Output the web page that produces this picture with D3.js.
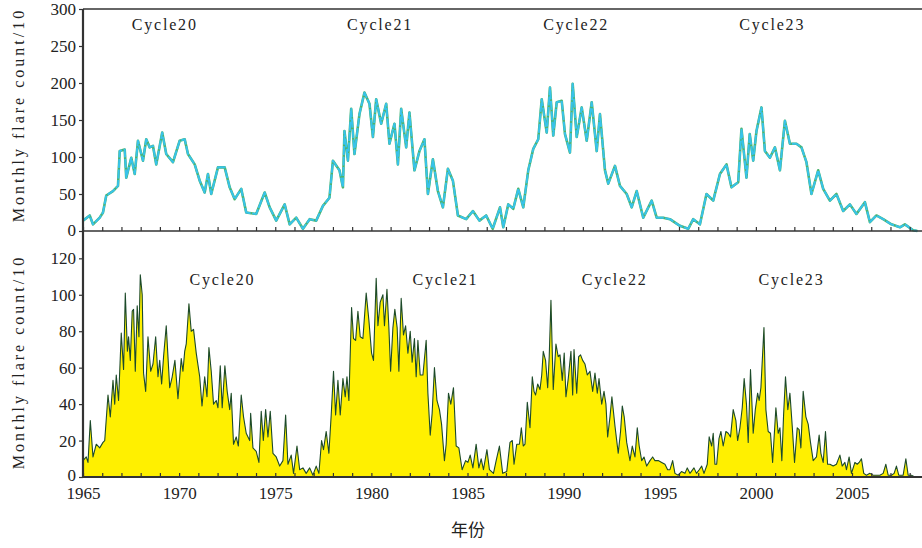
<!DOCTYPE html>
<html>
<head>
<meta charset="utf-8">
<script src="https://cdn.jsdelivr.net/npm/d3@7"></script>
<style>
  html, body { margin: 0; padding: 0; background: #fff; }
  svg { display: block; }
  .num { font-family: "Liberation Serif", "DejaVu Serif", serif; font-size: 17px; fill: #222; }
  .lbl { font-family: "Liberation Serif", "DejaVu Serif", serif; font-size: 16px; fill: #222; }
</style>
</head>
<body>
<div id="chart"></div>
<script>
// top panel: monthly flare count / 10 (smoothed), [year, value]
var topSeries = [[1965.00,14],[1965.35,21],[1965.52,9],[1965.87,18],[1966.04,25],[1966.21,48],[1966.56,54],[1966.82,61],[1966.91,108],[1967.17,110],[1967.25,72],[1967.51,99],[1967.69,77],[1967.86,122],[1968.12,95],[1968.29,124],[1968.47,113],[1968.64,115],[1968.81,90],[1969.12,133],[1969.33,104],[1969.68,93],[1970.03,122],[1970.29,124],[1970.46,104],[1970.81,90],[1971.07,68],[1971.33,52],[1971.50,77],[1971.67,50],[1972.02,86],[1972.37,86],[1972.63,59],[1972.89,43],[1973.23,57],[1973.49,25],[1974.01,23],[1974.45,52],[1974.71,32],[1975.05,14],[1975.49,36],[1975.75,9],[1976.09,18],[1976.44,3],[1976.79,16],[1977.13,14],[1977.48,34],[1977.82,45],[1978.00,95],[1978.34,82],[1978.52,59],[1978.60,135],[1978.78,95],[1978.95,165],[1979.12,104],[1979.38,158],[1979.64,187],[1979.90,172],[1980.08,127],[1980.25,178],[1980.51,145],[1980.77,172],[1980.94,118],[1981.20,145],[1981.38,90],[1981.55,165],[1981.81,113],[1981.98,160],[1982.24,82],[1982.50,108],[1982.76,124],[1982.94,50],[1983.20,97],[1983.46,54],[1983.72,32],[1983.98,84],[1984.24,68],[1984.50,21],[1984.93,16],[1985.28,27],[1985.62,14],[1985.97,21],[1986.31,3],[1986.69,32],[1986.86,5],[1987.12,36],[1987.38,30],[1987.64,57],[1987.90,32],[1988.16,82],[1988.42,111],[1988.68,124],[1988.86,178],[1989.12,133],[1989.29,194],[1989.46,129],[1989.64,174],[1989.90,176],[1990.07,131],[1990.33,106],[1990.47,199],[1990.68,127],[1990.94,167],[1991.20,122],[1991.46,174],[1991.72,108],[1991.89,158],[1992.15,82],[1992.32,64],[1992.67,88],[1992.93,61],[1993.28,50],[1993.54,32],[1993.80,54],[1994.14,18],[1994.58,41],[1994.84,18],[1995.18,18],[1995.53,16],[1996.05,7],[1996.48,3],[1996.74,16],[1997.09,9],[1997.43,50],[1997.78,41],[1998.13,77],[1998.47,90],[1998.73,59],[1999.08,66],[1999.25,138],[1999.51,72],[1999.68,131],[1999.86,95],[2000.03,135],[2000.29,167],[2000.47,108],[2000.73,99],[2000.99,113],[2001.25,82],[2001.51,149],[2001.77,118],[2002.11,118],[2002.37,113],[2002.63,93],[2002.89,50],[2003.24,82],[2003.50,57],[2003.85,41],[2004.19,50],[2004.54,27],[2004.89,36],[2005.23,23],[2005.67,39],[2005.93,12],[2006.27,21],[2006.62,16],[2007.05,9],[2007.49,5],[2007.75,9],[2008.18,1],[2008.40,0]];

// bottom panel: monthly flare count / 10, [year, value]
var bottomSeries = [[1965.00,9],[1965.17,11],[1965.26,8],[1965.38,31],[1965.52,11],[1965.69,18],[1965.87,16],[1966.04,19],[1966.13,20],[1966.30,45],[1966.42,33],[1966.56,53],[1966.65,40],[1966.73,56],[1966.85,42],[1966.99,79],[1967.11,59],[1967.20,101],[1967.31,69],[1967.37,77],[1967.46,64],[1967.56,91],[1967.63,92],[1967.72,58],[1967.82,94],[1967.91,77],[1967.98,111],[1968.08,100],[1968.15,57],[1968.26,47],[1968.38,77],[1968.52,58],[1968.64,62],[1968.78,77],[1968.90,55],[1968.99,64],[1969.09,51],[1969.19,66],[1969.33,83],[1969.51,49],[1969.64,55],[1969.78,64],[1969.94,43],[1970.11,65],[1970.20,58],[1970.29,69],[1970.37,73],[1970.51,95],[1970.63,80],[1970.75,81],[1970.89,68],[1971.07,55],[1971.19,39],[1971.33,55],[1971.45,44],[1971.55,71],[1971.67,58],[1971.79,40],[1971.93,42],[1972.02,38],[1972.14,61],[1972.24,38],[1972.38,61],[1972.50,47],[1972.63,37],[1972.71,46],[1972.83,18],[1972.97,22],[1973.08,17],[1973.23,45],[1973.35,33],[1973.49,24],[1973.67,20],[1973.72,35],[1973.84,16],[1974.01,14],[1974.15,8],[1974.27,36],[1974.38,20],[1974.50,37],[1974.62,22],[1974.74,36],[1974.88,13],[1975.05,11],[1975.23,6],[1975.40,9],[1975.54,34],[1975.66,7],[1975.83,12],[1975.95,2],[1976.13,17],[1976.27,4],[1976.44,5],[1976.61,2],[1976.79,5],[1976.96,1],[1977.13,6],[1977.27,2],[1977.41,20],[1977.51,15],[1977.65,25],[1977.79,13],[1977.91,34],[1978.03,58],[1978.14,34],[1978.26,53],[1978.38,34],[1978.52,54],[1978.64,44],[1978.73,55],[1978.83,42],[1978.97,93],[1979.07,76],[1979.18,75],[1979.30,91],[1979.42,77],[1979.56,76],[1979.73,101],[1979.87,86],[1980.01,68],[1980.11,64],[1980.25,109],[1980.34,83],[1980.46,96],[1980.60,100],[1980.68,83],[1980.81,103],[1980.91,82],[1981.00,58],[1981.12,82],[1981.22,92],[1981.34,82],[1981.43,58],[1981.55,98],[1981.67,78],[1981.78,83],[1981.90,68],[1982.02,80],[1982.12,63],[1982.24,76],[1982.33,55],[1982.42,75],[1982.54,56],[1982.68,56],[1982.85,75],[1982.94,46],[1983.06,23],[1983.16,35],[1983.28,60],[1983.41,42],[1983.54,37],[1983.65,29],[1983.80,9],[1983.89,18],[1984.01,46],[1984.13,40],[1984.27,49],[1984.41,17],[1984.55,16],[1984.72,4],[1984.90,9],[1985.02,8],[1985.14,12],[1985.28,5],[1985.45,18],[1985.59,5],[1985.71,10],[1985.83,4],[1986.01,15],[1986.14,4],[1986.35,2],[1986.49,9],[1986.66,17],[1986.83,2],[1987.04,3],[1987.21,19],[1987.33,20],[1987.42,7],[1987.56,18],[1987.70,18],[1987.80,27],[1987.90,17],[1987.99,18],[1988.11,41],[1988.25,27],[1988.37,55],[1988.46,47],[1988.54,45],[1988.65,51],[1988.77,48],[1988.86,56],[1988.94,69],[1989.06,64],[1989.17,49],[1989.25,66],[1989.34,97],[1989.46,48],[1989.60,73],[1989.72,66],[1989.81,67],[1989.93,53],[1990.03,68],[1990.12,44],[1990.24,54],[1990.38,69],[1990.47,45],[1990.54,70],[1990.68,46],[1990.78,66],[1990.88,67],[1990.99,64],[1991.11,62],[1991.23,56],[1991.37,58],[1991.51,47],[1991.63,57],[1991.75,46],[1991.84,54],[1991.98,40],[1992.10,47],[1992.20,40],[1992.29,22],[1992.41,33],[1992.51,44],[1992.67,28],[1992.84,13],[1992.96,25],[1993.05,39],[1993.15,33],[1993.28,19],[1993.45,9],[1993.57,17],[1993.71,11],[1993.83,27],[1993.93,17],[1994.06,9],[1994.18,11],[1994.32,6],[1994.49,9],[1994.63,11],[1994.75,9],[1994.92,9],[1995.10,8],[1995.27,7],[1995.41,4],[1995.53,4],[1995.67,9],[1995.79,2],[1995.96,1],[1996.13,3],[1996.31,2],[1996.43,5],[1996.57,2],[1996.78,5],[1996.91,2],[1997.05,4],[1997.18,6],[1997.30,2],[1997.47,7],[1997.57,22],[1997.70,17],[1997.78,24],[1997.87,7],[1997.96,7],[1998.08,21],[1998.18,25],[1998.30,17],[1998.44,25],[1998.56,24],[1998.68,22],[1998.82,37],[1998.96,31],[1999.05,20],[1999.17,27],[1999.29,38],[1999.39,54],[1999.51,40],[1999.60,19],[1999.72,59],[1999.86,24],[1999.97,37],[2000.09,46],[2000.17,42],[2000.26,49],[2000.42,82],[2000.52,37],[2000.64,25],[2000.76,24],[2000.87,8],[2001.04,38],[2001.16,24],[2001.25,27],[2001.35,9],[2001.44,34],[2001.54,55],[2001.66,37],[2001.77,46],[2001.89,28],[2002.01,8],[2002.15,27],[2002.25,26],[2002.34,16],[2002.46,47],[2002.60,33],[2002.72,29],[2002.84,19],[2002.98,9],[2003.15,11],[2003.29,23],[2003.38,13],[2003.50,8],[2003.62,25],[2003.73,7],[2003.85,7],[2004.02,6],[2004.19,7],[2004.37,12],[2004.49,6],[2004.63,8],[2004.71,4],[2004.85,11],[2004.97,2],[2005.15,8],[2005.27,7],[2005.37,8],[2005.49,10],[2005.61,2],[2005.75,1],[2005.93,2],[2006.10,1],[2006.27,1],[2006.45,1],[2006.62,2],[2006.76,7],[2006.88,1],[2007.05,1],[2007.19,2],[2007.31,6],[2007.43,1],[2007.66,1],[2007.80,10],[2007.92,1],[2008.09,1],[2008.27,0]];

var xTicks = [1965, 1970, 1975, 1980, 1985, 1990, 1995, 2000, 2005];
var topYTicks = [0, 50, 100, 150, 200, 250, 300];
var bottomYTicks = [0, 20, 40, 60, 80, 100, 120];
var cycleNames = ["Cycle20", "Cycle21", "Cycle22", "Cycle23"];
var topCycleYears = [1969.2, 1980.4, 1990.6, 2000.8];
var bottomCycleYears = [1972.2, 1983.8, 1992.6, 2001.8];

var W = 922, H = 548;
var left = 83, right = 922;
var topY0 = 9, topY1 = 231, botY1 = 477;

var svg = d3.select("#chart").append("svg").attr("width", W).attr("height", H);

var x = d3.scaleLinear().domain([1965, 2008.64]).range([left, right]);
var yTop = d3.scaleLinear().domain([0, 300]).range([topY1, topY0]);
var yBot = d3.scaleLinear().domain([0, 135]).range([botY1, topY1]);

var yearTicks = d3.range(1965, 2009);

// top curve: green under a broken cyan stroke
var topLine = d3.line().x(function (d) { return x(d[0]); }).y(function (d) { return yTop(d[1]); });
svg.append("path").datum(topSeries).attr("d", topLine)
  .attr("fill", "none").attr("stroke", "#4cb46e").attr("stroke-width", 2.6).attr("stroke-linejoin", "round");
svg.append("path").datum(topSeries).attr("d", topLine)
  .attr("fill", "none").attr("stroke", "#38c3ea").attr("stroke-width", 2)
  .attr("stroke-dasharray", "9,1.5").attr("stroke-linejoin", "round");

// bottom curve: yellow area
var botArea = d3.area().x(function (d) { return x(d[0]); }).y0(yBot(0)).y1(function (d) { return yBot(d[1]); });
var botLine = d3.line().x(function (d) { return x(d[0]); }).y(function (d) { return yBot(d[1]); });
svg.append("path").datum(bottomSeries).attr("d", botArea).attr("fill", "#fff000");
svg.append("path").datum(bottomSeries).attr("d", botLine)
  .attr("fill", "none").attr("stroke", "#1c4a2a").attr("stroke-width", 1.1).attr("stroke-linejoin", "round");

// axes
function yAxis(scale, ticks) {
  return d3.axisLeft(scale).tickValues(ticks).tickSize(4).tickPadding(3);
}
var gTopY = svg.append("g").attr("transform", "translate(" + left + ",0)").call(yAxis(yTop, topYTicks));
var gBotY = svg.append("g").attr("transform", "translate(" + left + ",0)").call(yAxis(yBot, bottomYTicks));
[gTopY, gBotY].forEach(function (g) {
  g.select(".domain").remove();
  g.selectAll(".tick line").attr("stroke", "#333").attr("stroke-width", 1.2);
  g.selectAll(".tick text").attr("class", "num").attr("font-family", null).attr("font-size", null);
});
gBotY.selectAll(".tick").filter(function (d) { return d === 0; }).select("text").attr("dy", "0.2em");
gTopY.selectAll(".tick").filter(function (d) { return d === 0; }).select("text").attr("dy", "0.25em");

// year ticks pointing inward
function yearAxis(yPos) {
  var g = svg.append("g").attr("transform", "translate(0," + yPos + ")")
    .call(d3.axisTop(x).tickValues(yearTicks).tickSize(4).tickFormat(""));
  g.select(".domain").remove();
  g.selectAll(".tick line").attr("stroke", "#333").attr("stroke-width", 1.2);
  return g;
}
yearAxis(topY1);
yearAxis(botY1);

var gX = svg.append("g").attr("transform", "translate(0," + botY1 + ")")
  .call(d3.axisBottom(x).tickValues(xTicks).tickSize(0).tickPadding(10).tickFormat(d3.format("d")));
gX.select(".domain").remove();
gX.selectAll(".tick text").attr("class", "num").attr("font-family", null).attr("font-size", null);

// frame lines
svg.append("line").attr("x1", left).attr("x2", right).attr("y1", topY0).attr("y2", topY0)
  .attr("stroke", "#333").attr("stroke-width", 1.6);
svg.append("line").attr("x1", left).attr("x2", right).attr("y1", topY1).attr("y2", topY1)
  .attr("stroke", "#333").attr("stroke-width", 1.6);
svg.append("line").attr("x1", left).attr("x2", right).attr("y1", botY1).attr("y2", botY1)
  .attr("stroke", "#333").attr("stroke-width", 2.2);
svg.append("line").attr("x1", left).attr("x2", left).attr("y1", topY0).attr("y2", botY1)
  .attr("stroke", "#333").attr("stroke-width", 2.2);

// labels
svg.selectAll(".cycTop").data(cycleNames).enter().append("text")
  .attr("class", "lbl").attr("text-anchor", "middle").attr("dominant-baseline", "middle")
  .style("letter-spacing", "1.8px")
  .attr("x", function (d, i) { return x(topCycleYears[i]) + 1; })
  .attr("y", 26)
  .text(function (d) { return d; });
svg.selectAll(".cycBot").data(cycleNames).enter().append("text")
  .attr("class", "lbl").attr("text-anchor", "middle").attr("dominant-baseline", "middle")
  .style("letter-spacing", "1.8px")
  .attr("x", function (d, i) { return x(bottomCycleYears[i]) + 1; })
  .attr("y", 281)
  .text(function (d) { return d; });

[115, 362].forEach(function (cy) {
  svg.append("text").attr("class", "lbl").attr("text-anchor", "middle")
    .style("letter-spacing", "3px")
    .attr("transform", "translate(24," + cy + ") rotate(-90)")
    .text("Monthly flare count/10");
});

svg.append("text").attr("x", 468).attr("y", 536).attr("text-anchor", "middle")
  .style("font-family", "'Noto Sans CJK SC', sans-serif").style("font-size", "17px").style("fill", "#222")
  .text("年份");
</script>
</body>
</html>
